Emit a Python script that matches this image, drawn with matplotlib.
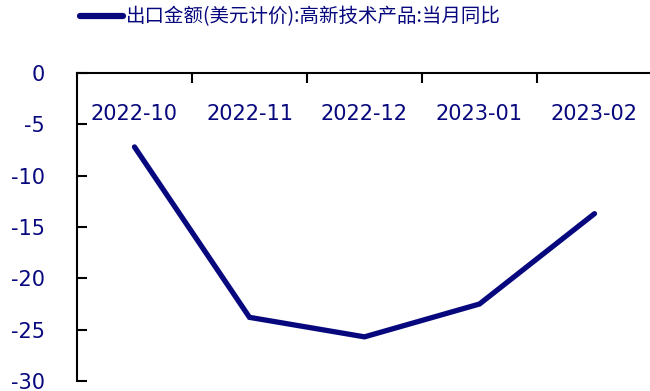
import numpy as np
import matplotlib.pyplot as plt

plt.rcParams['font.family'] = ['DejaVu Sans']
plt.rcParams['axes.unicode_minus'] = False

months = ['2022-10', '2022-11', '2022-12', '2023-01', '2023-02']
yoy = [-7.2, -23.8, -25.7, -22.5, -13.7]
series_name = '出口金额(美元计价):高新技术产品:当月同比'
yticks = [0, -5, -10, -15, -20, -25, -30]

navy = '#08087e'

fig = plt.figure(figsize=(6.5, 3.91), dpi=100)
ax = fig.add_axes([77 / 650, 10 / 391, 575 / 650, 308 / 391])

x = np.arange(len(months))
ln, = ax.plot(x, yoy, color=navy, lw=3.8, solid_capstyle='round', solid_joinstyle='miter')

ax.set_xlim(-0.5, len(months) - 0.5)
ax.set_ylim(-30, 0)

# 横轴放在顶部(0处), 刻度标签画在轴线下方
ax.xaxis.tick_top()
ax.set_xticks(x)
ax.set_xticklabels(months)
ax.set_xticks(x[:-1] + 0.5, minor=True)
ax.tick_params(axis='x', which='major', length=0, pad=-37, labelsize=15, labelcolor=navy)
ax.tick_params(axis='x', which='minor', top=True, direction='in', length=7, width=1.5, color='black')

ax.set_yticks(yticks)
ax.tick_params(axis='y', direction='in', length=7, width=1.5, pad=23, labelsize=15, labelcolor=navy)

for side in ['right', 'bottom']:
    ax.spines[side].set_visible(False)
for side in ['left', 'top']:
    ax.spines[side].set_linewidth(1.5)
    ax.spines[side].set_color('black')

leg = fig.legend([ln], [series_name], loc='center', bbox_to_anchor=(0.447, 1 - 17 / 391),
                 frameon=False, handlelength=2.2, handletextpad=0.15,
                 prop={'family': ['Noto Sans CJK SC', 'DejaVu Sans'], 'size': 14})
for t in leg.get_texts():
    t.set_color(navy)
for h in leg.legend_handles:
    h.set_linewidth(4.5)

fig.savefig('out.png', dpi=100)
